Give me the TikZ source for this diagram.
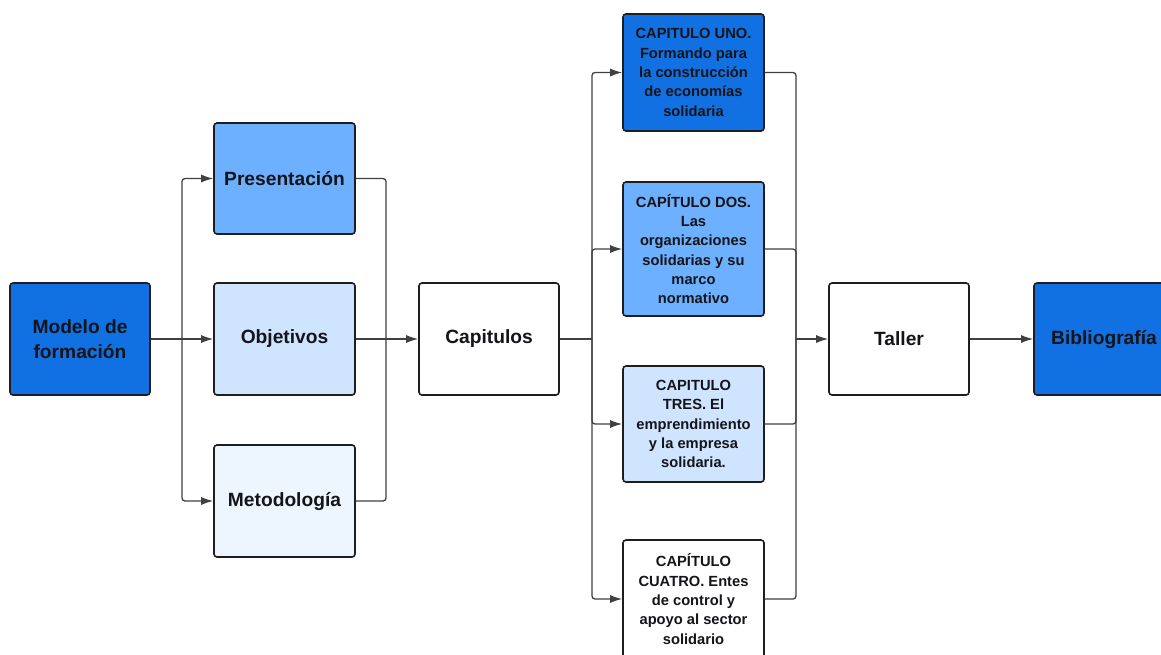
\documentclass[tikz,border=0pt]{standalone}
\usepackage{fontspec}
\setmainfont{Liberation Sans}
\usetikzlibrary{arrows.meta}
\definecolor{dblue}{RGB}{17,112,226}
\definecolor{mblue}{RGB}{108,176,255}
\definecolor{lblue}{RGB}{207,228,255}
\definecolor{vlblue}{RGB}{237,245,255}
\definecolor{edge}{RGB}{30,30,30}
\definecolor{txt}{RGB}{20,20,25}
\tikzset{
  box/.style={draw=edge, line width=1.6pt, rounded corners=3pt, inner sep=0pt,
    align=center, text=txt, font=\bfseries\fontsize{19.2}{25}\selectfont},
  mainbox/.style={box, minimum width=140pt, minimum height=112pt},
  chapbox/.style={box, minimum width=141pt, font=\bfseries\fontsize{14.7}{19.3}\selectfont},
  line/.style={draw=edge!85, line width=1.3pt, rounded corners=3pt},
  arr/.style={line, -{Latex[length=12pt,width=8pt]}}
}
\begin{document}
\begin{tikzpicture}[x=1pt,y=-1pt]
\useasboundingbox[fill=white] (0,0) rectangle (1161,654);
% left column
\node[mainbox, fill=dblue] (mod) at (80,339) {Modelo de\\formación};
\node[mainbox, fill=mblue, minimum width=141pt, minimum height=111pt] (pres) at (284.5,178.5) {Presentación};
\node[mainbox, fill=lblue, minimum width=141pt] (obj) at (284.5,339) {Objetivos};
\node[mainbox, fill=vlblue, minimum width=141pt] (met) at (284.5,501) {Metodología};
\node[mainbox, fill=white] (cap) at (489,339) {Capitulos};
% chapters
\node[chapbox, fill=dblue, minimum height=117pt] (uno) at (693.5,72.5)
  {CAPITULO UNO.\\Formando para\\la construcción\\de economías\\solidaria};
\node[chapbox, fill=mblue, minimum height=134pt] (dos) at (693.5,249)
  {CAPÍTULO DOS.\\Las\\organizaciones\\solidarias y su\\marco\\normativo};
\node[chapbox, fill=lblue, minimum height=116pt] (tres) at (693.5,424)
  {CAPITULO\\TRES. El\\emprendimiento\\y la empresa\\solidaria.};
\node[chapbox, fill=white, minimum height=118pt] (cuatro) at (693.5,599)
  {CAPÍTULO\\CUATRO. Entes\\de control y\\apoyo al sector\\solidario};
\node[mainbox, fill=white] (tal) at (899,339) {Taller};
\node[mainbox, fill=dblue] (bib) at (1104,339) {Bibliografía};
% bus points
\coordinate (b1) at (182,339);
\coordinate (b2) at (386,339);
\coordinate (b3) at (592,339);
\coordinate (b4) at (796,339);
% connectors
\draw[line] (mod.east) -- (b1);
\draw[arr] (b1) |- (pres.west);
\draw[arr] (b1) -- (obj.west);
\draw[arr] (b1) |- (met.west);
\draw[line] (pres.east) -| (b2);
\draw[line] (obj.east) -- (b2);
\draw[line] (met.east) -| (b2);
\draw[arr] (b2) -- (cap.west);
\draw[line] (cap.east) -- (b3);
\draw[arr] (b3) |- (uno.west);
\draw[arr] (b3) |- (dos.west);
\draw[arr] (b3) |- (tres.west);
\draw[arr] (b3) |- (cuatro.west);
\draw[line] (uno.east) -| (b4);
\draw[line] (dos.east) -| (b4);
\draw[line] (tres.east) -| (b4);
\draw[line] (cuatro.east) -| (b4);
\draw[arr] (b4) -- (tal.west);
\draw[arr] (tal.east) -- (bib.west);
\end{tikzpicture}
\end{document}
